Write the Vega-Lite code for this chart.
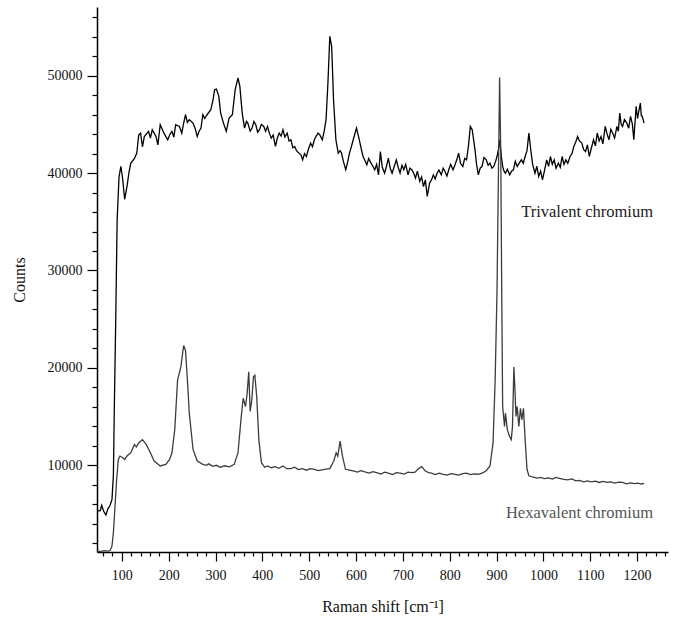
{
  "$schema": "https://vega.github.io/schema/vega-lite/v6.json",
  "width": 571,
  "height": 545,
  "autosize": "none",
  "padding": {"left": 97, "top": 7, "right": 7, "bottom": 69},
  "background": "white",
  "config": {
    "view": {"stroke": null},
    "font": "Liberation Serif"
  },
  "datasets": {
    "spectra": [
      {"shift": 47, "counts": 5300, "sample": "Trivalent"},
      {"shift": 54, "counts": 5350, "sample": "Trivalent"},
      {"shift": 57, "counts": 5900, "sample": "Trivalent"},
      {"shift": 61, "counts": 5300, "sample": "Trivalent"},
      {"shift": 66, "counts": 4900, "sample": "Trivalent"},
      {"shift": 70, "counts": 5500, "sample": "Trivalent"},
      {"shift": 75, "counts": 5900, "sample": "Trivalent"},
      {"shift": 79, "counts": 6500, "sample": "Trivalent"},
      {"shift": 82, "counts": 9000, "sample": "Trivalent"},
      {"shift": 84, "counts": 16000, "sample": "Trivalent"},
      {"shift": 87, "counts": 25000, "sample": "Trivalent"},
      {"shift": 90, "counts": 35200, "sample": "Trivalent"},
      {"shift": 94, "counts": 39600, "sample": "Trivalent"},
      {"shift": 98, "counts": 40700, "sample": "Trivalent"},
      {"shift": 102, "counts": 39300, "sample": "Trivalent"},
      {"shift": 106, "counts": 37300, "sample": "Trivalent"},
      {"shift": 111, "counts": 38600, "sample": "Trivalent"},
      {"shift": 115, "counts": 40000, "sample": "Trivalent"},
      {"shift": 119, "counts": 41000, "sample": "Trivalent"},
      {"shift": 127, "counts": 41500, "sample": "Trivalent"},
      {"shift": 132, "counts": 42050, "sample": "Trivalent"},
      {"shift": 136, "counts": 43900, "sample": "Trivalent"},
      {"shift": 140, "counts": 44100, "sample": "Trivalent"},
      {"shift": 144, "counts": 42700, "sample": "Trivalent"},
      {"shift": 148, "counts": 43750, "sample": "Trivalent"},
      {"shift": 157, "counts": 44280, "sample": "Trivalent"},
      {"shift": 161, "counts": 43600, "sample": "Trivalent"},
      {"shift": 165, "counts": 44450, "sample": "Trivalent"},
      {"shift": 173, "counts": 43750, "sample": "Trivalent"},
      {"shift": 177, "counts": 42900, "sample": "Trivalent"},
      {"shift": 182, "counts": 44960, "sample": "Trivalent"},
      {"shift": 190, "counts": 44100, "sample": "Trivalent"},
      {"shift": 198, "counts": 43420, "sample": "Trivalent"},
      {"shift": 203, "counts": 44000, "sample": "Trivalent"},
      {"shift": 207, "counts": 44280, "sample": "Trivalent"},
      {"shift": 211, "counts": 43700, "sample": "Trivalent"},
      {"shift": 215, "counts": 44960, "sample": "Trivalent"},
      {"shift": 223, "counts": 44790, "sample": "Trivalent"},
      {"shift": 228, "counts": 44100, "sample": "Trivalent"},
      {"shift": 232, "counts": 45130, "sample": "Trivalent"},
      {"shift": 236, "counts": 45990, "sample": "Trivalent"},
      {"shift": 240, "counts": 45200, "sample": "Trivalent"},
      {"shift": 244, "counts": 45480, "sample": "Trivalent"},
      {"shift": 252, "counts": 45130, "sample": "Trivalent"},
      {"shift": 257, "counts": 44500, "sample": "Trivalent"},
      {"shift": 261, "counts": 43760, "sample": "Trivalent"},
      {"shift": 265, "counts": 44300, "sample": "Trivalent"},
      {"shift": 269, "counts": 44620, "sample": "Trivalent"},
      {"shift": 273, "counts": 45990, "sample": "Trivalent"},
      {"shift": 277, "counts": 45600, "sample": "Trivalent"},
      {"shift": 282, "counts": 45990, "sample": "Trivalent"},
      {"shift": 290, "counts": 46500, "sample": "Trivalent"},
      {"shift": 295, "counts": 47600, "sample": "Trivalent"},
      {"shift": 298, "counts": 48560, "sample": "Trivalent"},
      {"shift": 302, "counts": 48630, "sample": "Trivalent"},
      {"shift": 307, "counts": 47880, "sample": "Trivalent"},
      {"shift": 311, "counts": 46160, "sample": "Trivalent"},
      {"shift": 317, "counts": 45130, "sample": "Trivalent"},
      {"shift": 323, "counts": 44280, "sample": "Trivalent"},
      {"shift": 329, "counts": 45650, "sample": "Trivalent"},
      {"shift": 336, "counts": 45990, "sample": "Trivalent"},
      {"shift": 342, "counts": 48560, "sample": "Trivalent"},
      {"shift": 348, "counts": 49760, "sample": "Trivalent"},
      {"shift": 352, "counts": 48900, "sample": "Trivalent"},
      {"shift": 357, "counts": 46160, "sample": "Trivalent"},
      {"shift": 362, "counts": 44620, "sample": "Trivalent"},
      {"shift": 366, "counts": 45300, "sample": "Trivalent"},
      {"shift": 369, "counts": 45130, "sample": "Trivalent"},
      {"shift": 374, "counts": 44300, "sample": "Trivalent"},
      {"shift": 378, "counts": 44620, "sample": "Trivalent"},
      {"shift": 382, "counts": 45300, "sample": "Trivalent"},
      {"shift": 386, "counts": 44960, "sample": "Trivalent"},
      {"shift": 390, "counts": 44200, "sample": "Trivalent"},
      {"shift": 394, "counts": 44450, "sample": "Trivalent"},
      {"shift": 398, "counts": 45000, "sample": "Trivalent"},
      {"shift": 403, "counts": 44790, "sample": "Trivalent"},
      {"shift": 407, "counts": 44300, "sample": "Trivalent"},
      {"shift": 411, "counts": 44790, "sample": "Trivalent"},
      {"shift": 415, "counts": 44100, "sample": "Trivalent"},
      {"shift": 419, "counts": 43590, "sample": "Trivalent"},
      {"shift": 423, "counts": 43900, "sample": "Trivalent"},
      {"shift": 428, "counts": 42740, "sample": "Trivalent"},
      {"shift": 432, "counts": 43600, "sample": "Trivalent"},
      {"shift": 436, "counts": 44100, "sample": "Trivalent"},
      {"shift": 440, "counts": 43800, "sample": "Trivalent"},
      {"shift": 444, "counts": 44450, "sample": "Trivalent"},
      {"shift": 448, "counts": 43700, "sample": "Trivalent"},
      {"shift": 453, "counts": 44100, "sample": "Trivalent"},
      {"shift": 457, "counts": 43300, "sample": "Trivalent"},
      {"shift": 461, "counts": 43420, "sample": "Trivalent"},
      {"shift": 465, "counts": 42600, "sample": "Trivalent"},
      {"shift": 469, "counts": 42740, "sample": "Trivalent"},
      {"shift": 473, "counts": 42300, "sample": "Trivalent"},
      {"shift": 478, "counts": 42050, "sample": "Trivalent"},
      {"shift": 482, "counts": 41900, "sample": "Trivalent"},
      {"shift": 486, "counts": 41360, "sample": "Trivalent"},
      {"shift": 490, "counts": 42000, "sample": "Trivalent"},
      {"shift": 494, "counts": 41700, "sample": "Trivalent"},
      {"shift": 498, "counts": 42400, "sample": "Trivalent"},
      {"shift": 503, "counts": 43080, "sample": "Trivalent"},
      {"shift": 507, "counts": 42700, "sample": "Trivalent"},
      {"shift": 511, "counts": 43420, "sample": "Trivalent"},
      {"shift": 515, "counts": 43800, "sample": "Trivalent"},
      {"shift": 519, "counts": 44100, "sample": "Trivalent"},
      {"shift": 523, "counts": 43900, "sample": "Trivalent"},
      {"shift": 528, "counts": 43420, "sample": "Trivalent"},
      {"shift": 532, "counts": 44300, "sample": "Trivalent"},
      {"shift": 536, "counts": 45480, "sample": "Trivalent"},
      {"shift": 540, "counts": 49250, "sample": "Trivalent"},
      {"shift": 544, "counts": 54040, "sample": "Trivalent"},
      {"shift": 548, "counts": 53000, "sample": "Trivalent"},
      {"shift": 552, "counts": 47500, "sample": "Trivalent"},
      {"shift": 557, "counts": 43420, "sample": "Trivalent"},
      {"shift": 562, "counts": 42050, "sample": "Trivalent"},
      {"shift": 566, "counts": 42300, "sample": "Trivalent"},
      {"shift": 569, "counts": 42050, "sample": "Trivalent"},
      {"shift": 573, "counts": 41200, "sample": "Trivalent"},
      {"shift": 578, "counts": 40340, "sample": "Trivalent"},
      {"shift": 582, "counts": 41100, "sample": "Trivalent"},
      {"shift": 586, "counts": 42050, "sample": "Trivalent"},
      {"shift": 590, "counts": 42700, "sample": "Trivalent"},
      {"shift": 594, "counts": 43420, "sample": "Trivalent"},
      {"shift": 601, "counts": 44620, "sample": "Trivalent"},
      {"shift": 607, "counts": 43420, "sample": "Trivalent"},
      {"shift": 611, "counts": 42500, "sample": "Trivalent"},
      {"shift": 615, "counts": 41700, "sample": "Trivalent"},
      {"shift": 619, "counts": 41300, "sample": "Trivalent"},
      {"shift": 623, "counts": 40850, "sample": "Trivalent"},
      {"shift": 627, "counts": 41500, "sample": "Trivalent"},
      {"shift": 632, "counts": 41020, "sample": "Trivalent"},
      {"shift": 636, "counts": 40700, "sample": "Trivalent"},
      {"shift": 640, "counts": 40340, "sample": "Trivalent"},
      {"shift": 644, "counts": 40900, "sample": "Trivalent"},
      {"shift": 648, "counts": 39820, "sample": "Trivalent"},
      {"shift": 652, "counts": 42220, "sample": "Trivalent"},
      {"shift": 656, "counts": 40600, "sample": "Trivalent"},
      {"shift": 661, "counts": 39990, "sample": "Trivalent"},
      {"shift": 665, "counts": 40700, "sample": "Trivalent"},
      {"shift": 669, "counts": 41530, "sample": "Trivalent"},
      {"shift": 673, "counts": 40500, "sample": "Trivalent"},
      {"shift": 677, "counts": 39990, "sample": "Trivalent"},
      {"shift": 681, "counts": 40600, "sample": "Trivalent"},
      {"shift": 686, "counts": 41360, "sample": "Trivalent"},
      {"shift": 690, "counts": 40600, "sample": "Trivalent"},
      {"shift": 694, "counts": 39990, "sample": "Trivalent"},
      {"shift": 698, "counts": 40800, "sample": "Trivalent"},
      {"shift": 702, "counts": 40340, "sample": "Trivalent"},
      {"shift": 706, "counts": 40900, "sample": "Trivalent"},
      {"shift": 711, "counts": 39820, "sample": "Trivalent"},
      {"shift": 715, "counts": 40500, "sample": "Trivalent"},
      {"shift": 719, "counts": 40340, "sample": "Trivalent"},
      {"shift": 723, "counts": 40000, "sample": "Trivalent"},
      {"shift": 727, "counts": 39480, "sample": "Trivalent"},
      {"shift": 731, "counts": 40200, "sample": "Trivalent"},
      {"shift": 736, "counts": 39140, "sample": "Trivalent"},
      {"shift": 740, "counts": 39600, "sample": "Trivalent"},
      {"shift": 744, "counts": 38620, "sample": "Trivalent"},
      {"shift": 748, "counts": 39300, "sample": "Trivalent"},
      {"shift": 752, "counts": 37600, "sample": "Trivalent"},
      {"shift": 757, "counts": 38960, "sample": "Trivalent"},
      {"shift": 761, "counts": 39300, "sample": "Trivalent"},
      {"shift": 765, "counts": 39820, "sample": "Trivalent"},
      {"shift": 769, "counts": 39400, "sample": "Trivalent"},
      {"shift": 773, "counts": 39990, "sample": "Trivalent"},
      {"shift": 777, "counts": 40300, "sample": "Trivalent"},
      {"shift": 782, "counts": 39820, "sample": "Trivalent"},
      {"shift": 786, "counts": 40500, "sample": "Trivalent"},
      {"shift": 790, "counts": 40160, "sample": "Trivalent"},
      {"shift": 794, "counts": 39700, "sample": "Trivalent"},
      {"shift": 798, "counts": 40340, "sample": "Trivalent"},
      {"shift": 802, "counts": 40900, "sample": "Trivalent"},
      {"shift": 807, "counts": 40340, "sample": "Trivalent"},
      {"shift": 811, "counts": 40800, "sample": "Trivalent"},
      {"shift": 815, "counts": 41360, "sample": "Trivalent"},
      {"shift": 819, "counts": 42050, "sample": "Trivalent"},
      {"shift": 823, "counts": 41000, "sample": "Trivalent"},
      {"shift": 828, "counts": 40680, "sample": "Trivalent"},
      {"shift": 832, "counts": 41500, "sample": "Trivalent"},
      {"shift": 836, "counts": 41360, "sample": "Trivalent"},
      {"shift": 840, "counts": 42800, "sample": "Trivalent"},
      {"shift": 844, "counts": 44790, "sample": "Trivalent"},
      {"shift": 848, "counts": 44450, "sample": "Trivalent"},
      {"shift": 854, "counts": 42390, "sample": "Trivalent"},
      {"shift": 857, "counts": 41000, "sample": "Trivalent"},
      {"shift": 861, "counts": 39820, "sample": "Trivalent"},
      {"shift": 865, "counts": 40500, "sample": "Trivalent"},
      {"shift": 869, "counts": 40680, "sample": "Trivalent"},
      {"shift": 873, "counts": 41600, "sample": "Trivalent"},
      {"shift": 878, "counts": 41360, "sample": "Trivalent"},
      {"shift": 882, "counts": 40800, "sample": "Trivalent"},
      {"shift": 886, "counts": 41020, "sample": "Trivalent"},
      {"shift": 890, "counts": 40500, "sample": "Trivalent"},
      {"shift": 894, "counts": 40680, "sample": "Trivalent"},
      {"shift": 898, "counts": 41200, "sample": "Trivalent"},
      {"shift": 901, "counts": 41700, "sample": "Trivalent"},
      {"shift": 904, "counts": 42400, "sample": "Trivalent"},
      {"shift": 907, "counts": 43420, "sample": "Trivalent"},
      {"shift": 910, "counts": 41800, "sample": "Trivalent"},
      {"shift": 913, "counts": 40680, "sample": "Trivalent"},
      {"shift": 916, "counts": 40200, "sample": "Trivalent"},
      {"shift": 919, "counts": 39990, "sample": "Trivalent"},
      {"shift": 923, "counts": 40400, "sample": "Trivalent"},
      {"shift": 928, "counts": 39820, "sample": "Trivalent"},
      {"shift": 932, "counts": 40200, "sample": "Trivalent"},
      {"shift": 936, "counts": 40340, "sample": "Trivalent"},
      {"shift": 940, "counts": 41200, "sample": "Trivalent"},
      {"shift": 944, "counts": 40680, "sample": "Trivalent"},
      {"shift": 948, "counts": 41000, "sample": "Trivalent"},
      {"shift": 953, "counts": 41360, "sample": "Trivalent"},
      {"shift": 957, "counts": 41000, "sample": "Trivalent"},
      {"shift": 961, "counts": 41700, "sample": "Trivalent"},
      {"shift": 965, "counts": 42300, "sample": "Trivalent"},
      {"shift": 969, "counts": 44100, "sample": "Trivalent"},
      {"shift": 973, "counts": 42390, "sample": "Trivalent"},
      {"shift": 977, "counts": 40900, "sample": "Trivalent"},
      {"shift": 982, "counts": 39990, "sample": "Trivalent"},
      {"shift": 986, "counts": 40700, "sample": "Trivalent"},
      {"shift": 990, "counts": 39650, "sample": "Trivalent"},
      {"shift": 994, "counts": 40200, "sample": "Trivalent"},
      {"shift": 998, "counts": 39310, "sample": "Trivalent"},
      {"shift": 1003, "counts": 40400, "sample": "Trivalent"},
      {"shift": 1007, "counts": 41360, "sample": "Trivalent"},
      {"shift": 1011, "counts": 40700, "sample": "Trivalent"},
      {"shift": 1015, "counts": 41700, "sample": "Trivalent"},
      {"shift": 1019, "counts": 40900, "sample": "Trivalent"},
      {"shift": 1023, "counts": 41360, "sample": "Trivalent"},
      {"shift": 1027, "counts": 40500, "sample": "Trivalent"},
      {"shift": 1032, "counts": 41020, "sample": "Trivalent"},
      {"shift": 1036, "counts": 40600, "sample": "Trivalent"},
      {"shift": 1040, "counts": 41700, "sample": "Trivalent"},
      {"shift": 1044, "counts": 40900, "sample": "Trivalent"},
      {"shift": 1048, "counts": 41360, "sample": "Trivalent"},
      {"shift": 1052, "counts": 41000, "sample": "Trivalent"},
      {"shift": 1057, "counts": 41700, "sample": "Trivalent"},
      {"shift": 1061, "counts": 42000, "sample": "Trivalent"},
      {"shift": 1065, "counts": 42740, "sample": "Trivalent"},
      {"shift": 1069, "counts": 43200, "sample": "Trivalent"},
      {"shift": 1073, "counts": 43760, "sample": "Trivalent"},
      {"shift": 1077, "counts": 43300, "sample": "Trivalent"},
      {"shift": 1082, "counts": 43080, "sample": "Trivalent"},
      {"shift": 1086, "counts": 42400, "sample": "Trivalent"},
      {"shift": 1090, "counts": 42220, "sample": "Trivalent"},
      {"shift": 1094, "counts": 42900, "sample": "Trivalent"},
      {"shift": 1098, "counts": 41700, "sample": "Trivalent"},
      {"shift": 1102, "counts": 42500, "sample": "Trivalent"},
      {"shift": 1107, "counts": 43420, "sample": "Trivalent"},
      {"shift": 1111, "counts": 42800, "sample": "Trivalent"},
      {"shift": 1115, "counts": 44100, "sample": "Trivalent"},
      {"shift": 1119, "counts": 43300, "sample": "Trivalent"},
      {"shift": 1123, "counts": 43760, "sample": "Trivalent"},
      {"shift": 1127, "counts": 43000, "sample": "Trivalent"},
      {"shift": 1132, "counts": 44790, "sample": "Trivalent"},
      {"shift": 1136, "counts": 44000, "sample": "Trivalent"},
      {"shift": 1140, "counts": 43420, "sample": "Trivalent"},
      {"shift": 1144, "counts": 44500, "sample": "Trivalent"},
      {"shift": 1148, "counts": 44100, "sample": "Trivalent"},
      {"shift": 1152, "counts": 43600, "sample": "Trivalent"},
      {"shift": 1157, "counts": 44790, "sample": "Trivalent"},
      {"shift": 1160, "counts": 44300, "sample": "Trivalent"},
      {"shift": 1163, "counts": 46160, "sample": "Trivalent"},
      {"shift": 1166, "counts": 45000, "sample": "Trivalent"},
      {"shift": 1169, "counts": 44790, "sample": "Trivalent"},
      {"shift": 1173, "counts": 45500, "sample": "Trivalent"},
      {"shift": 1178, "counts": 45130, "sample": "Trivalent"},
      {"shift": 1182, "counts": 44600, "sample": "Trivalent"},
      {"shift": 1186, "counts": 45820, "sample": "Trivalent"},
      {"shift": 1190, "counts": 45000, "sample": "Trivalent"},
      {"shift": 1193, "counts": 43420, "sample": "Trivalent"},
      {"shift": 1196, "counts": 45500, "sample": "Trivalent"},
      {"shift": 1198, "counts": 46850, "sample": "Trivalent"},
      {"shift": 1201, "counts": 45600, "sample": "Trivalent"},
      {"shift": 1203, "counts": 46160, "sample": "Trivalent"},
      {"shift": 1207, "counts": 47190, "sample": "Trivalent"},
      {"shift": 1209, "counts": 45900, "sample": "Trivalent"},
      {"shift": 1211, "counts": 45820, "sample": "Trivalent"},
      {"shift": 1215, "counts": 45130, "sample": "Trivalent"},

      {"shift": 47, "counts": 1200, "sample": "Hexavalent"},
      {"shift": 55, "counts": 1150, "sample": "Hexavalent"},
      {"shift": 62, "counts": 1250, "sample": "Hexavalent"},
      {"shift": 70, "counts": 1200, "sample": "Hexavalent"},
      {"shift": 75, "counts": 1250, "sample": "Hexavalent"},
      {"shift": 79, "counts": 1720, "sample": "Hexavalent"},
      {"shift": 82, "counts": 3100, "sample": "Hexavalent"},
      {"shift": 85.5, "counts": 5830, "sample": "Hexavalent"},
      {"shift": 89, "counts": 8560, "sample": "Hexavalent"},
      {"shift": 92.5, "counts": 10600, "sample": "Hexavalent"},
      {"shift": 96, "counts": 10950, "sample": "Hexavalent"},
      {"shift": 102, "counts": 10780, "sample": "Hexavalent"},
      {"shift": 106, "counts": 10600, "sample": "Hexavalent"},
      {"shift": 111, "counts": 10950, "sample": "Hexavalent"},
      {"shift": 119, "counts": 11290, "sample": "Hexavalent"},
      {"shift": 127, "counts": 12140, "sample": "Hexavalent"},
      {"shift": 131, "counts": 11900, "sample": "Hexavalent"},
      {"shift": 136, "counts": 12300, "sample": "Hexavalent"},
      {"shift": 144, "counts": 12640, "sample": "Hexavalent"},
      {"shift": 152, "counts": 12140, "sample": "Hexavalent"},
      {"shift": 161, "counts": 11290, "sample": "Hexavalent"},
      {"shift": 169, "counts": 10440, "sample": "Hexavalent"},
      {"shift": 182, "counts": 9930, "sample": "Hexavalent"},
      {"shift": 194, "counts": 10100, "sample": "Hexavalent"},
      {"shift": 202, "counts": 10600, "sample": "Hexavalent"},
      {"shift": 207, "counts": 11290, "sample": "Hexavalent"},
      {"shift": 213, "counts": 13660, "sample": "Hexavalent"},
      {"shift": 219, "counts": 18750, "sample": "Hexavalent"},
      {"shift": 226, "counts": 20100, "sample": "Hexavalent"},
      {"shift": 232, "counts": 22300, "sample": "Hexavalent"},
      {"shift": 236, "counts": 21800, "sample": "Hexavalent"},
      {"shift": 240, "counts": 18750, "sample": "Hexavalent"},
      {"shift": 244, "counts": 15360, "sample": "Hexavalent"},
      {"shift": 252, "counts": 11630, "sample": "Hexavalent"},
      {"shift": 261, "counts": 10440, "sample": "Hexavalent"},
      {"shift": 273, "counts": 10100, "sample": "Hexavalent"},
      {"shift": 280, "counts": 10000, "sample": "Hexavalent"},
      {"shift": 286, "counts": 10150, "sample": "Hexavalent"},
      {"shift": 294, "counts": 9900, "sample": "Hexavalent"},
      {"shift": 302, "counts": 10000, "sample": "Hexavalent"},
      {"shift": 310, "counts": 9800, "sample": "Hexavalent"},
      {"shift": 319, "counts": 9950, "sample": "Hexavalent"},
      {"shift": 330, "counts": 9850, "sample": "Hexavalent"},
      {"shift": 340, "counts": 10100, "sample": "Hexavalent"},
      {"shift": 348, "counts": 11290, "sample": "Hexavalent"},
      {"shift": 355, "counts": 15020, "sample": "Hexavalent"},
      {"shift": 359, "counts": 16880, "sample": "Hexavalent"},
      {"shift": 364, "counts": 16030, "sample": "Hexavalent"},
      {"shift": 367.5, "counts": 17390, "sample": "Hexavalent"},
      {"shift": 371, "counts": 19590, "sample": "Hexavalent"},
      {"shift": 374, "counts": 15530, "sample": "Hexavalent"},
      {"shift": 377.5, "counts": 16710, "sample": "Hexavalent"},
      {"shift": 381, "counts": 19090, "sample": "Hexavalent"},
      {"shift": 384, "counts": 19250, "sample": "Hexavalent"},
      {"shift": 388, "counts": 17050, "sample": "Hexavalent"},
      {"shift": 392.5, "counts": 12640, "sample": "Hexavalent"},
      {"shift": 398, "counts": 10270, "sample": "Hexavalent"},
      {"shift": 405, "counts": 9800, "sample": "Hexavalent"},
      {"shift": 411, "counts": 9930, "sample": "Hexavalent"},
      {"shift": 419, "counts": 9750, "sample": "Hexavalent"},
      {"shift": 427, "counts": 9860, "sample": "Hexavalent"},
      {"shift": 435, "counts": 9700, "sample": "Hexavalent"},
      {"shift": 444, "counts": 9930, "sample": "Hexavalent"},
      {"shift": 452, "counts": 9650, "sample": "Hexavalent"},
      {"shift": 461, "counts": 9660, "sample": "Hexavalent"},
      {"shift": 469, "counts": 9800, "sample": "Hexavalent"},
      {"shift": 477, "counts": 9560, "sample": "Hexavalent"},
      {"shift": 486, "counts": 9660, "sample": "Hexavalent"},
      {"shift": 494, "counts": 9500, "sample": "Hexavalent"},
      {"shift": 502, "counts": 9650, "sample": "Hexavalent"},
      {"shift": 511, "counts": 9590, "sample": "Hexavalent"},
      {"shift": 519, "counts": 9450, "sample": "Hexavalent"},
      {"shift": 527, "counts": 9530, "sample": "Hexavalent"},
      {"shift": 536, "counts": 9600, "sample": "Hexavalent"},
      {"shift": 544, "counts": 9660, "sample": "Hexavalent"},
      {"shift": 552.5, "counts": 10440, "sample": "Hexavalent"},
      {"shift": 557.5, "counts": 11290, "sample": "Hexavalent"},
      {"shift": 561, "counts": 10950, "sample": "Hexavalent"},
      {"shift": 566, "counts": 12480, "sample": "Hexavalent"},
      {"shift": 571, "counts": 10950, "sample": "Hexavalent"},
      {"shift": 577.5, "counts": 9590, "sample": "Hexavalent"},
      {"shift": 586, "counts": 9500, "sample": "Hexavalent"},
      {"shift": 594, "counts": 9420, "sample": "Hexavalent"},
      {"shift": 603, "counts": 9300, "sample": "Hexavalent"},
      {"shift": 611, "counts": 9450, "sample": "Hexavalent"},
      {"shift": 619, "counts": 9320, "sample": "Hexavalent"},
      {"shift": 628, "counts": 9200, "sample": "Hexavalent"},
      {"shift": 636, "counts": 9350, "sample": "Hexavalent"},
      {"shift": 644, "counts": 9250, "sample": "Hexavalent"},
      {"shift": 653, "counts": 9100, "sample": "Hexavalent"},
      {"shift": 661, "counts": 9300, "sample": "Hexavalent"},
      {"shift": 669, "counts": 9190, "sample": "Hexavalent"},
      {"shift": 678, "counts": 9050, "sample": "Hexavalent"},
      {"shift": 686, "counts": 9250, "sample": "Hexavalent"},
      {"shift": 694, "counts": 9190, "sample": "Hexavalent"},
      {"shift": 703, "counts": 9100, "sample": "Hexavalent"},
      {"shift": 711, "counts": 9300, "sample": "Hexavalent"},
      {"shift": 719, "counts": 9250, "sample": "Hexavalent"},
      {"shift": 726, "counts": 9300, "sample": "Hexavalent"},
      {"shift": 732, "counts": 9590, "sample": "Hexavalent"},
      {"shift": 740, "counts": 9860, "sample": "Hexavalent"},
      {"shift": 748, "counts": 9420, "sample": "Hexavalent"},
      {"shift": 755, "counts": 9250, "sample": "Hexavalent"},
      {"shift": 761, "counts": 9190, "sample": "Hexavalent"},
      {"shift": 769, "counts": 9050, "sample": "Hexavalent"},
      {"shift": 778, "counts": 9200, "sample": "Hexavalent"},
      {"shift": 786, "counts": 9080, "sample": "Hexavalent"},
      {"shift": 794, "counts": 9000, "sample": "Hexavalent"},
      {"shift": 803, "counts": 9150, "sample": "Hexavalent"},
      {"shift": 811, "counts": 9080, "sample": "Hexavalent"},
      {"shift": 819, "counts": 9000, "sample": "Hexavalent"},
      {"shift": 828, "counts": 9150, "sample": "Hexavalent"},
      {"shift": 836, "counts": 9190, "sample": "Hexavalent"},
      {"shift": 844, "counts": 9050, "sample": "Hexavalent"},
      {"shift": 853, "counts": 9120, "sample": "Hexavalent"},
      {"shift": 861, "counts": 9080, "sample": "Hexavalent"},
      {"shift": 869, "counts": 9200, "sample": "Hexavalent"},
      {"shift": 877.5, "counts": 9420, "sample": "Hexavalent"},
      {"shift": 886, "counts": 9930, "sample": "Hexavalent"},
      {"shift": 892.5, "counts": 12300, "sample": "Hexavalent"},
      {"shift": 897, "counts": 18750, "sample": "Hexavalent"},
      {"shift": 901, "counts": 28000, "sample": "Hexavalent"},
      {"shift": 904, "counts": 40000, "sample": "Hexavalent"},
      {"shift": 906.5, "counts": 49800, "sample": "Hexavalent"},
      {"shift": 909, "counts": 42000, "sample": "Hexavalent"},
      {"shift": 911, "counts": 28000, "sample": "Hexavalent"},
      {"shift": 913, "counts": 16030, "sample": "Hexavalent"},
      {"shift": 917, "counts": 14000, "sample": "Hexavalent"},
      {"shift": 919, "counts": 15360, "sample": "Hexavalent"},
      {"shift": 923, "counts": 13660, "sample": "Hexavalent"},
      {"shift": 927.5, "counts": 12980, "sample": "Hexavalent"},
      {"shift": 931.5, "counts": 12640, "sample": "Hexavalent"},
      {"shift": 934, "counts": 14000, "sample": "Hexavalent"},
      {"shift": 937, "counts": 20100, "sample": "Hexavalent"},
      {"shift": 939, "counts": 18070, "sample": "Hexavalent"},
      {"shift": 941.5, "counts": 15020, "sample": "Hexavalent"},
      {"shift": 944, "counts": 16030, "sample": "Hexavalent"},
      {"shift": 947.5, "counts": 14000, "sample": "Hexavalent"},
      {"shift": 951, "counts": 15860, "sample": "Hexavalent"},
      {"shift": 954, "counts": 14680, "sample": "Hexavalent"},
      {"shift": 957.5, "counts": 15860, "sample": "Hexavalent"},
      {"shift": 961, "counts": 12640, "sample": "Hexavalent"},
      {"shift": 965, "counts": 9590, "sample": "Hexavalent"},
      {"shift": 969, "counts": 8920, "sample": "Hexavalent"},
      {"shift": 977, "counts": 8800, "sample": "Hexavalent"},
      {"shift": 986, "counts": 8680, "sample": "Hexavalent"},
      {"shift": 994, "counts": 8750, "sample": "Hexavalent"},
      {"shift": 1002, "counts": 8640, "sample": "Hexavalent"},
      {"shift": 1011, "counts": 8700, "sample": "Hexavalent"},
      {"shift": 1019, "counts": 8580, "sample": "Hexavalent"},
      {"shift": 1027, "counts": 8750, "sample": "Hexavalent"},
      {"shift": 1036, "counts": 8640, "sample": "Hexavalent"},
      {"shift": 1044, "counts": 8550, "sample": "Hexavalent"},
      {"shift": 1052, "counts": 8510, "sample": "Hexavalent"},
      {"shift": 1061, "counts": 8600, "sample": "Hexavalent"},
      {"shift": 1069, "counts": 8410, "sample": "Hexavalent"},
      {"shift": 1077, "counts": 8450, "sample": "Hexavalent"},
      {"shift": 1086, "counts": 8300, "sample": "Hexavalent"},
      {"shift": 1094, "counts": 8400, "sample": "Hexavalent"},
      {"shift": 1102, "counts": 8300, "sample": "Hexavalent"},
      {"shift": 1111, "counts": 8380, "sample": "Hexavalent"},
      {"shift": 1119, "counts": 8240, "sample": "Hexavalent"},
      {"shift": 1127, "counts": 8350, "sample": "Hexavalent"},
      {"shift": 1136, "counts": 8240, "sample": "Hexavalent"},
      {"shift": 1144, "counts": 8300, "sample": "Hexavalent"},
      {"shift": 1152, "counts": 8170, "sample": "Hexavalent"},
      {"shift": 1161, "counts": 8280, "sample": "Hexavalent"},
      {"shift": 1169, "counts": 8240, "sample": "Hexavalent"},
      {"shift": 1177, "counts": 8100, "sample": "Hexavalent"},
      {"shift": 1186, "counts": 8200, "sample": "Hexavalent"},
      {"shift": 1194, "counts": 8120, "sample": "Hexavalent"},
      {"shift": 1202, "counts": 8170, "sample": "Hexavalent"},
      {"shift": 1209, "counts": 8080, "sample": "Hexavalent"},
      {"shift": 1215, "counts": 8140, "sample": "Hexavalent"}
    ],
    "labels": [
      {"shift": 1234, "counts": 36000, "text": "Trivalent chromium", "sample": "Trivalent"},
      {"shift": 1234, "counts": 5150, "text": "Hexavalent chromium", "sample": "Hexavalent"}
    ]
  },
  "layer": [
    {
      "data": {"name": "spectra"},
      "mark": {"type": "line", "strokeWidth": 1.3, "interpolate": "linear"},
      "encoding": {
        "x": {
          "field": "shift",
          "type": "quantitative",
          "scale": {"domain": [47, 1266], "nice": false, "zero": false},
          "axis": {
            "title": "Raman shift [cm⁻¹]",
            "orient": "bottom",
            "values": [60, 80, 100, 120, 140, 160, 180, 200, 220, 240, 260, 280, 300, 320, 340, 360, 380, 400, 420, 440, 460, 480, 500, 520, 540, 560, 580, 600, 620, 640, 660, 680, 700, 720, 740, 760, 780, 800, 820, 840, 860, 880, 900, 920, 940, 960, 980, 1000, 1020, 1040, 1060, 1080, 1100, 1120, 1140, 1160, 1180, 1200, 1220, 1240, 1260],
            "tickCount": 500,
            "labelExpr": "datum.value % 100 === 0 ? datum.label : ''",
            "format": "d",
            "labelOverlap": false,
            "labelFlush": false,
            "grid": false,
            "domainColor": "#000",
            "domainWidth": 1.5,
            "tickColor": "#000",
            "tickWidth": 1.2,
            "tickSize": {"condition": {"test": "datum.value % 100 === 0", "value": 9}, "value": 4},
            "labelFont": "Liberation Serif",
            "labelFontSize": 14,
            "labelColor": "#111",
            "labelPadding": 7,
            "titleFont": "Liberation Serif",
            "titleFontSize": 16,
            "titleFontWeight": "normal",
            "titleColor": "#111",
            "titlePadding": 16
          }
        },
        "y": {
          "field": "counts",
          "type": "quantitative",
          "scale": {"domain": [1100, 57050], "nice": false, "zero": false},
          "axis": {
            "title": "Counts",
            "orient": "left",
            "values": [2000, 4000, 6000, 8000, 10000, 12000, 14000, 16000, 18000, 20000, 22000, 24000, 26000, 28000, 30000, 32000, 34000, 36000, 38000, 40000, 42000, 44000, 46000, 48000, 50000, 52000, 54000, 56000],
            "tickCount": 500,
            "labelExpr": "datum.value % 10000 === 0 ? datum.label : ''",
            "format": "d",
            "labelOverlap": false,
            "labelFlush": false,
            "grid": false,
            "domainColor": "#000",
            "domainWidth": 1.5,
            "tickColor": "#000",
            "tickWidth": 1.2,
            "tickSize": {"condition": {"test": "datum.value % 10000 === 0", "value": 10}, "value": 5},
            "labelFont": "Liberation Serif",
            "labelFontSize": 14,
            "labelColor": "#111",
            "labelPadding": 5,
            "titleFont": "Liberation Serif",
            "titleFontSize": 16,
            "titleFontWeight": "normal",
            "titleColor": "#111",
            "titlePadding": 20
          }
        },
        "color": {
          "field": "sample",
          "type": "nominal",
          "scale": {"domain": ["Trivalent", "Hexavalent"], "range": ["#000000", "#3c3c3c"]},
          "legend": null
        }
      }
    },
    {
      "data": {"name": "labels"},
      "mark": {"type": "text", "align": "right", "baseline": "middle", "font": "Liberation Serif", "fontSize": 16.5},
      "encoding": {
        "x": {"field": "shift", "type": "quantitative"},
        "y": {"field": "counts", "type": "quantitative"},
        "text": {"field": "text"},
        "color": {"field": "sample", "type": "nominal", "scale": {"domain": ["Trivalent", "Hexavalent"], "range": ["#1a1a1a", "#555555"]}, "legend": null}
      }
    }
  ],
  "resolve": {"scale": {"color": "independent"}}
}
